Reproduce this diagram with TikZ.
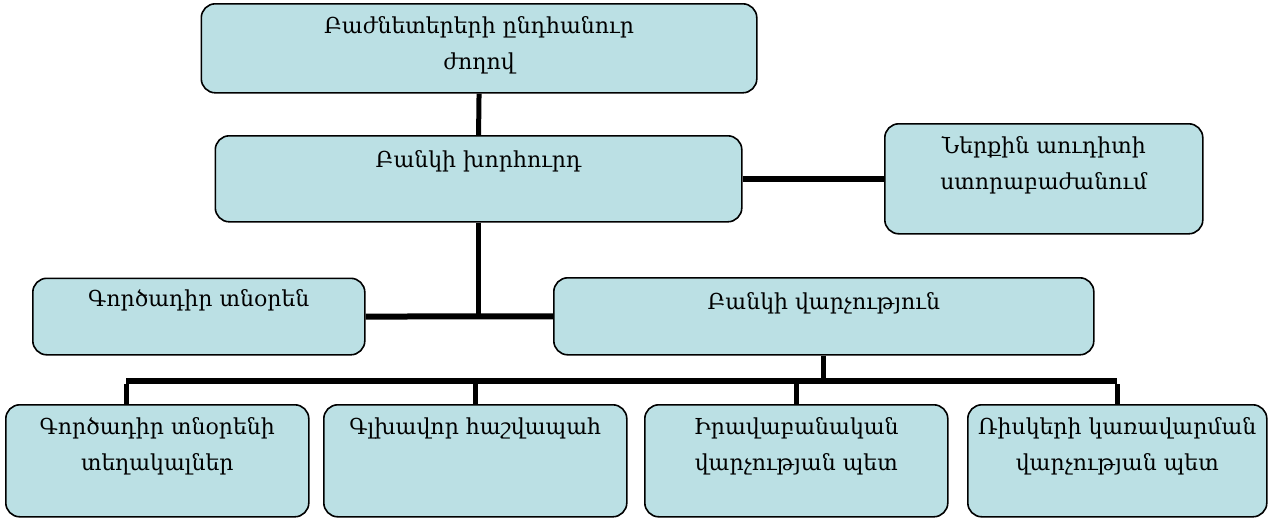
\documentclass[tikz,border=0pt]{standalone}
\usepackage{fontspec}
\setmainfont{DejaVu Serif}
\usetikzlibrary{backgrounds}
\definecolor{boxfill}{RGB}{187,224,228}
\tikzset{
  orgbox/.style={draw=black, line width=1.6pt, fill=boxfill, rounded corners=14pt,
    inner sep=0pt, anchor=north west},
  lbl/.style={anchor=north, inner sep=0pt, align=center,
    font=\fontsize{22}{36}\selectfont},
  conn/.style={draw=black, line width=5pt, line join=miter},
  hconn/.style={draw=black, line width=6pt, line join=miter}
}
\newcommand{\orgnode}[7]{% name, x, y, w, h, text
  \node[orgbox, minimum width=#4pt, minimum height=#5pt] (#1) at (#2,#3) {};
  \node[lbl] (#1t) at ([yshift=-#6pt]#1.north) {\strut #7};
}
\begin{document}
\begin{tikzpicture}[x=1pt,y=-1pt]
\useasboundingbox (0,0) rectangle (1269,517);
\orgnode{b1}{200.5}{3}{555.5}{89}{5.5}{Բաժնետերերի ընդհանուր\\ժողով}
\orgnode{b2}{214.5}{135}{526.5}{86}{7}{Բանկի խորհուրդ}
\orgnode{b3}{884}{123}{318}{110}{5.5}{Ներքին աուդիտի\\ստորաբաժանում}
\orgnode{b4}{32}{277.5}{332}{76.5}{3.5}{Գործադիր տնօրեն}
\orgnode{b5}{553}{277}{540}{77}{7}{Բանկի վարչություն}
\orgnode{b6}{5}{404}{303}{112}{5.5}{Գործադիր տնօրենի\\տեղակալներ}
\orgnode{b7}{323}{404}{303}{112}{5.5}{Գլխավոր հաշվապահ}
\orgnode{b8}{644}{404}{303}{112}{5.5}{Իրավաբանական\\վարչության պետ}
\orgnode{b9}{967}{404}{299}{112}{5.5}{Ռիսկերի կառավարման\\վարչության պետ}
\coordinate (j1) at (b2.south |- b4.east);
\coordinate (busL) at (126,381);
\begin{scope}[on background layer]
\draw[conn] (b1.south) -- (b2.north);
\draw[conn] (b2.south) -- (j1);
\draw[hconn] (b2.east) -- (b3.west);
\draw[hconn] (b4.east) -- (b5.west);
\draw[conn] (b5.south) -- (b5.south |- busL);
\draw[hconn] (busL) -- (b9.north |- busL);
\draw[conn] (busL |- b6.north) -- ([yshift=-3pt]busL);
\draw[conn] (b7.north) -- ([yshift=-3pt]b7.north |- busL);
\draw[conn] (b8.north) -- ([yshift=-3pt]b8.north |- busL);
\draw[conn] (b9.north) -- ([yshift=-3pt]b9.north |- busL);
\end{scope}
\end{tikzpicture}
\end{document}
